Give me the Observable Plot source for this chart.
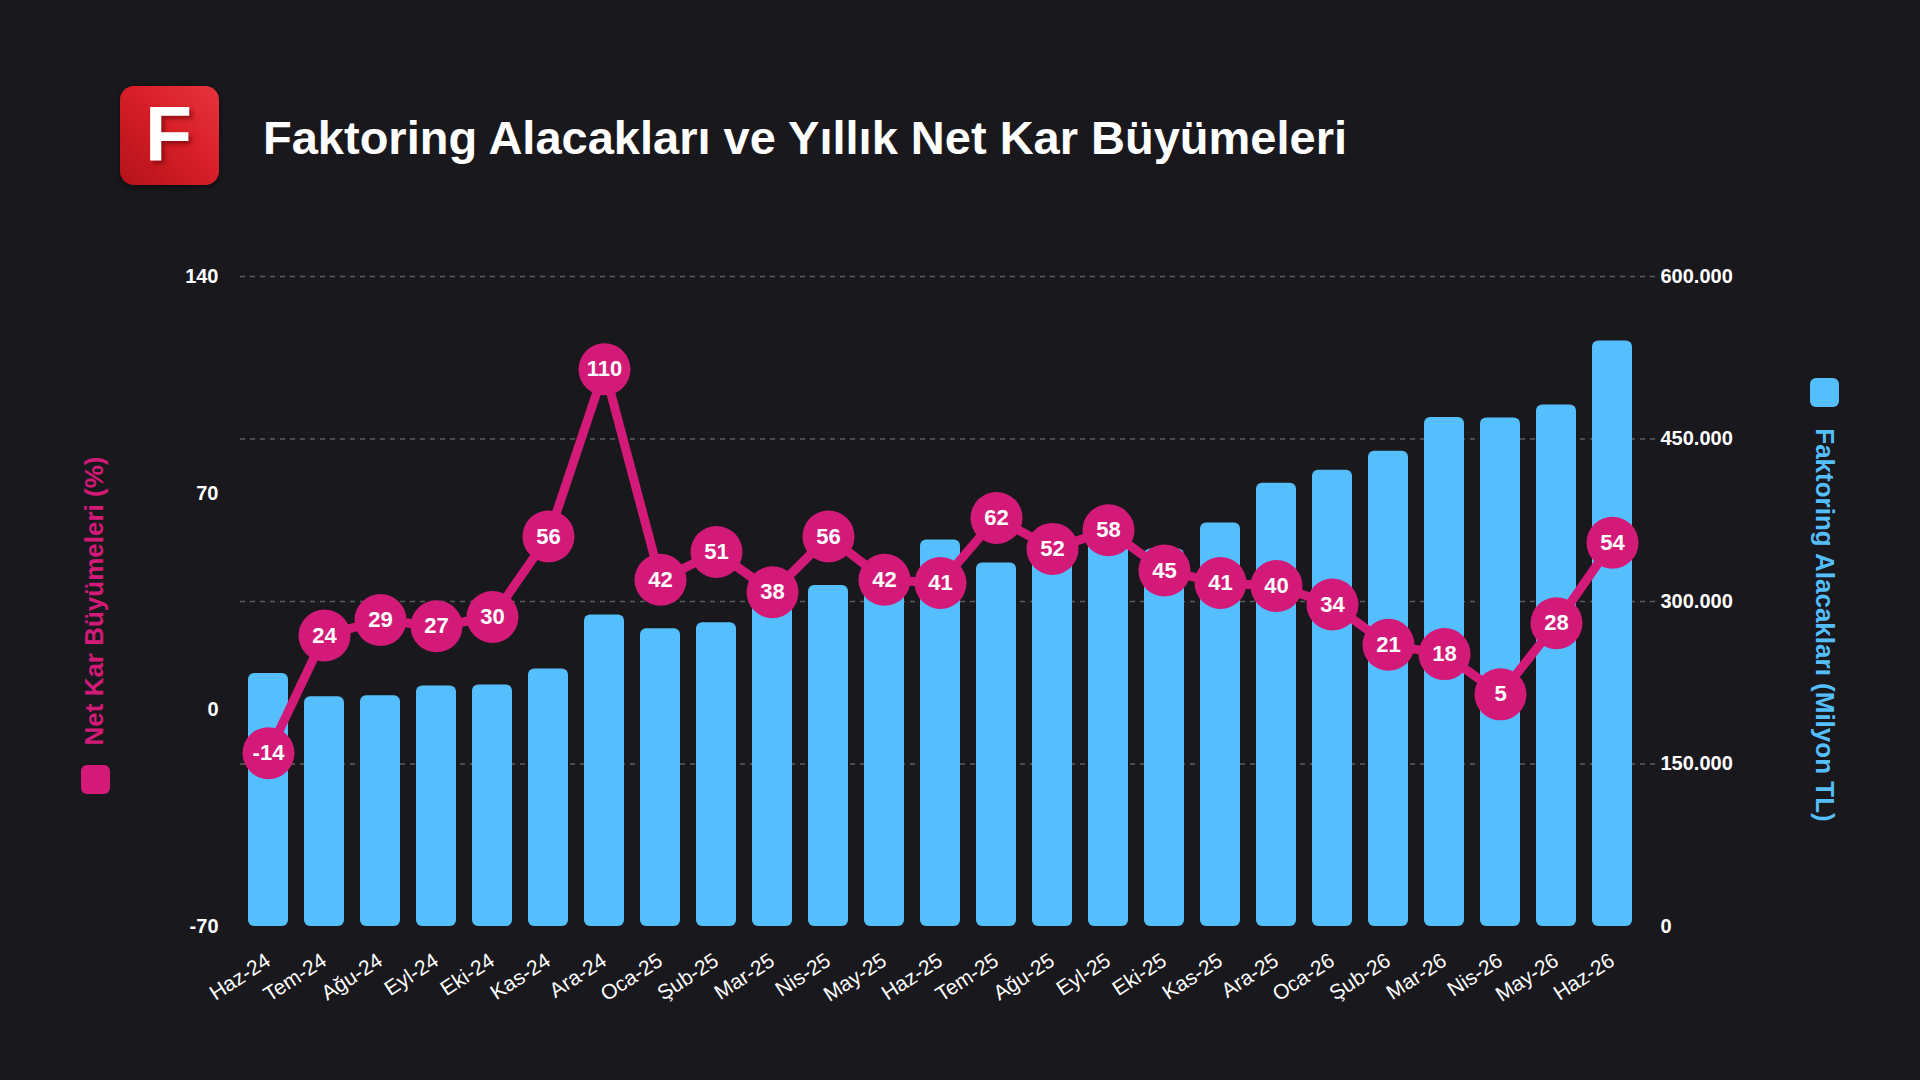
<!DOCTYPE html>
<html>
<head>
<meta charset="utf-8">
<script src="https://cdn.jsdelivr.net/npm/d3@7"></script>
<script src="https://cdn.jsdelivr.net/npm/@observablehq/plot@0.6"></script>
<style>
  html, body { margin: 0; padding: 0; }
  body { width: 1920px; height: 1080px; background: #19181d; position: relative; overflow: hidden;
         font-family: "Liberation Sans", Arial, Helvetica, sans-serif; }
  #logo { position: absolute; left: 120px; top: 86px; width: 99px; height: 99px; border-radius: 14px;
          background: linear-gradient(225deg, #e7343e 0%, #d91f28 45%, #b3121a 100%);
          box-shadow: 0 2px 6px rgba(0,0,0,0.5); }
  #logo span { position: absolute; left: 25px; top: 10px; font-size: 77px; font-weight: 700; color: #fff;
               line-height: 1; text-shadow: 3px 3px 4px rgba(90,0,0,0.55); }
  #title { position: absolute; left: 263px; top: 114px; font-size: 47px; font-weight: 700; color: #fff;
           line-height: 1; white-space: nowrap; }
  #chart { position: absolute; left: 0; top: 0; }
  .sq { position: absolute; width: 29px; height: 29px; border-radius: 6px; }
  .axt { position: absolute; font-size: 26px; font-weight: 700; line-height: 26px; white-space: nowrap; }
</style>
</head>
<body>
<div id="logo"><span>F</span></div>
<div id="title">Faktoring Alacakları ve Yıllık Net Kar Büyümeleri</div>
<div id="chart"></div>
<div class="sq" style="left:81px; top:765px; background:#d41a78;"></div>
<div class="axt" id="ltitle" style="color:#d41a78;">Net Kar Büyümeleri (%)</div>
<div class="sq" style="left:1810px; top:378px; background:#54bffc;"></div>
<div class="axt" id="rtitle" style="color:#54bffc;">Faktoring Alacakları (Milyon TL)</div>
<script>
const months = ["Haz-24","Tem-24","Ağu-24","Eyl-24","Eki-24","Kas-24","Ara-24","Oca-25","Şub-25","Mar-25","Nis-25","May-25","Haz-25","Tem-25","Ağu-25","Eyl-25","Eki-25","Kas-25","Ara-25","Oca-26","Şub-26","Mar-26","Nis-26","May-26","Haz-26"];
const receivables = [233500,212000,213000,222000,223000,237600,287500,274800,280400,298000,314800,330000,356800,335500,340000,355000,348400,372400,409100,421100,438700,469900,469400,481500,540400];
const netProfitGrowth = [-14,24,29,27,30,56,110,42,51,38,56,42,41,62,52,58,45,41,40,34,21,18,5,28,54];
const leftTicks = [-70, 0, 70, 140];
const rightTicks = [0, 150000, 300000, 450000, 600000];

const PINK = "#d41a78";
const BLUE = "#54bffc";

const data = months.map((m, i) => ({month: m, rec: receivables[i], growth: netProfitGrowth[i]}));
const toLeft = d3.scaleLinear([0, 600000], [-70, 140]);
const fmt = d3.formatLocale({decimal: ",", thousands: ".", grouping: [3], currency: ["", ""]}).format(",d");

function place(id, cx, cy, rot) {
  const el = document.getElementById(id);
  el.style.left = cx + "px";
  el.style.top = cy + "px";
  el.style.transform = `translate(-50%, -50%) rotate(${rot}deg)`;
}
place("ltitle", 94, 601, -90);
place("rtitle", 1825, 625, 90);

const chart = Plot.plot({
  width: 1920,
  height: 1080,
  marginLeft: 240,
  marginRight: 263,
  marginTop: 276,
  marginBottom: 154,
  style: {background: "transparent", color: "#ffffff", fontFamily: "'Liberation Sans', Arial, sans-serif"},
  x: {domain: months, range: [239, 1640], paddingInner: 0.29, paddingOuter: 0.145, label: null},
  y: {domain: [-70, 140], label: null},
  marks: [
    Plot.gridY(rightTicks.slice(1).map(toLeft), {stroke: "#5c5c62", strokeOpacity: 1, strokeWidth: 1.6, strokeDasharray: "5,5"}),
    Plot.barY(data, {x: "month", y1: -70, y2: d => toLeft(d.rec), fill: BLUE, rx: 6}),
    Plot.line(data, {x: "month", y: "growth", stroke: PINK, strokeWidth: 9}),
    Plot.dot(data, {x: "month", y: "growth", r: 26, fill: PINK, stroke: null}),
    Plot.text(data, {x: "month", y: "growth", text: d => String(d.growth), fill: "#ffffff", fontSize: 22, fontWeight: 700}),
    Plot.axisY(leftTicks, {anchor: "left", tickSize: 0, tickPadding: 22, fontSize: 20, fontWeight: 700, tickFormat: d => String(d), label: null}),
    Plot.axisY(rightTicks.map(toLeft), {anchor: "right", tickSize: 0, tickPadding: 3, fontSize: 20, fontWeight: 700, tickFormat: d => fmt(Math.round(toLeft.invert(d))), label: null}),
    Plot.axisX({tickSize: 0, tickRotate: -33, tickPadding: 32, fontSize: 21, label: null})
  ]
});
document.getElementById("chart").appendChild(chart);
</script>
</body>
</html>
